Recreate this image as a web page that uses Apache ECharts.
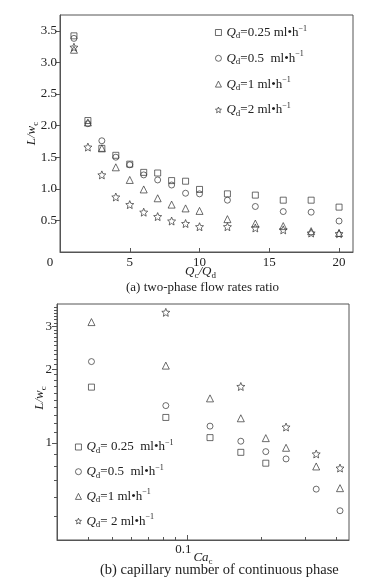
<!DOCTYPE html>
<html><head><meta charset="utf-8">
<script src="https://cdn.jsdelivr.net/npm/echarts@6/dist/echarts.min.js"></script>
<style>html,body{margin:0;padding:0;background:#fff}#c{width:371px;height:584px}</style>
</head><body><div id="c"></div>
<script>
// ---------- data ----------
const seriesNames = ['Qd=0.25', 'Qd=0.5', 'Qd=1', 'Qd=2'];
const legendTextA = ['=0.25 ml•h', '=0.5  ml•h', '=1 ml•h', '=2 ml•h'];
const legendTextB = ['= 0.25  ml•h', '=0.5  ml•h', '=1 ml•h', '= 2 ml•h'];

// chart (a): L/wc vs Qc/Qd
const ratioX = [1, 2, 3, 4, 5, 6, 7, 8, 9, 10, 12, 14, 16, 18, 20];
const a_q025 = [3.42, 2.08, 1.64, 1.53, 1.39, 1.26, 1.25, 1.13, 1.12, 0.99, 0.92, 0.90, 0.82, 0.82, 0.71];
const a_q05  = [3.38, 2.03, 1.76, 1.50, 1.38, 1.22, 1.14, 1.06, 0.93, 0.92, 0.82, 0.72, 0.64, 0.63, 0.49];
const a_q1   = [3.20, 2.05, 1.64, 1.34, 1.14, 0.99, 0.85, 0.75, 0.69, 0.65, 0.52, 0.45, 0.41, 0.33, 0.30];
const a_q2   = [3.24, 1.66, 1.22, 0.87, 0.75, 0.63, 0.56, 0.49, 0.45, 0.40, 0.40, 0.38, 0.35, 0.30, 0.29];
const a_xLabels = [0, 5, 10, 15, 20];
const a_xTicks = [5, 10, 15, 20];
const a_yLabels = [0.5, 1, 1.5, 2, 2.5, 3, 3.5];

// chart (b): L/wc vs Ca_c (log-log)
const b_x_q025 = [0.0413, 0.0823, 0.124, 0.165, 0.208];
const b_y_q025 = [1.69, 1.27, 1.05, 0.914, 0.825];
const b_x_q05  = [0.0413, 0.0823, 0.124, 0.165, 0.208, 0.251, 0.332, 0.414];
const b_y_q05  = [2.15, 1.42, 1.17, 1.015, 0.92, 0.859, 0.646, 0.527];
const b_x_q1   = [0.0413, 0.0823, 0.124, 0.165, 0.208, 0.251, 0.332, 0.414];
const b_y_q1   = [3.12, 2.07, 1.52, 1.26, 1.045, 0.954, 0.80, 0.652];
const b_x_q2   = [0.0823, 0.165, 0.251, 0.332, 0.414];
const b_y_q2   = [3.42, 1.70, 1.16, 0.90, 0.788];
const b_xMajor = [0.1];
const b_xMinor = [0.04, 0.05, 0.06, 0.07, 0.08, 0.09, 0.2, 0.3, 0.4];
const b_yMajor = [1, 2, 3];
const b_yMinor = [0.5, 0.6, 0.7, 0.8, 0.9, 1.1, 1.2, 1.3, 1.4, 1.5, 1.6, 1.7, 1.8, 1.9,
                  2.1, 2.2, 2.3, 2.4, 2.5, 2.6, 2.7, 2.8, 2.9, 3.1, 3.2, 3.3, 3.4, 3.5, 3.6];

// ---------- styles ----------
const FONT = 'Liberation Serif';
const TXT = '#222';
const AX = '#555';
const STROKE = '#333';
const STAR = 'path://M12,2 L14.9,8.9 L22.4,9.6 L16.7,14.5 L18.4,21.9 L12,18 L5.6,21.9 L7.3,14.5 L1.6,9.6 L9.1,8.9 Z';
const symbols = ['rect', 'circle', 'triangle', STAR];
const symSizes = [6, 6, 7, 8];

const rich = {
  i: {fontStyle: 'italic', fontFamily: FONT, fontSize: 13, lineHeight: 16, color: TXT},
  t: {fontFamily: FONT, fontSize: 13, lineHeight: 16, color: TXT},
  s: {fontFamily: FONT, fontSize: 9, lineHeight: 9, verticalAlign: 'bottom', color: TXT},
  p: {fontFamily: FONT, fontSize: 8, lineHeight: 8, verticalAlign: 'top', color: TXT}
};

function pairs(xs, ys) { return xs.map((x, k) => [x, ys[k]]); }

const aData = [a_q025, a_q05, a_q1, a_q2].map(ys => pairs(ratioX, ys));
const bData = [pairs(b_x_q025, b_y_q025), pairs(b_x_q05, b_y_q05), pairs(b_x_q1, b_y_q1), pairs(b_x_q2, b_y_q2)];

const series = [];
[aData, bData].forEach((set, g) => {
  set.forEach((d, k) => {
    series.push({
      type: 'scatter', name: seriesNames[k], xAxisIndex: g === 0 ? 0 : 1, yAxisIndex: g === 0 ? 0 : 1,
      symbol: symbols[k], symbolSize: symSizes[k], data: d,
      itemStyle: {color: 'rgba(255,255,255,0)', borderColor: STROKE, borderWidth: 0.9},
      emphasis: {disabled: true}, z: 5
    });
  });
});

const labelStyle = {fontFamily: FONT, fontSize: 13, color: TXT};
const legendItemStyle = {color: '#fff', borderColor: STROKE, borderWidth: 0.9};

const option = {
  animation: false,
  backgroundColor: '#fff',
  title: [
    {text: '(a) two-phase flow rates ratio', left: 126, top: 281, padding: 0,
     textStyle: {fontFamily: FONT, fontSize: 13, fontWeight: 'normal', color: TXT}},
    {text: '(b) capillary number of continuous phase', left: 100, top: 563, padding: 0,
     textStyle: {fontFamily: FONT, fontSize: 14.5, fontWeight: 'normal', color: TXT}}
  ],
  grid: [
    {left: 60, top: 15, right: 18, height: 237, show: true, borderColor: AX, borderWidth: 1},
    {left: 57, top: 304, right: 22, height: 236, show: true, borderColor: AX, borderWidth: 1}
  ],
  legend: [
    {orient: 'vertical', left: 215, top: 24.5, padding: 0, itemGap: 9.8, itemWidth: 6, itemHeight: 6, data: seriesNames,
     itemStyle: legendItemStyle,
     formatter: n => { const k = seriesNames.indexOf(n); return '{i|Q}{s|d}{t|' + legendTextA[k] + '}{p|−1}'; },
     textStyle: {rich: rich}, selectedMode: false},
    {orient: 'vertical', left: 75, top: 439, padding: 0, itemGap: 8.7, itemWidth: 6, itemHeight: 6, data: seriesNames,
     itemStyle: legendItemStyle,
     formatter: n => { const k = seriesNames.indexOf(n); return '{i|Q}{s|d}{t|' + legendTextB[k] + '}{p|−1}'; },
     textStyle: {rich: rich}, selectedMode: false}
  ],
  xAxis: [
    {type: 'value', gridIndex: 0, min: 0, max: 21,
     axisLine: {lineStyle: {color: AX}}, splitLine: {show: false},
     axisTick: {inside: true, length: 4, lineStyle: {color: AX}, customValues: a_xTicks},
     axisLabel: Object.assign({}, labelStyle, {margin: 4, customValues: a_xLabels,
       formatter: v => v === 0 ? '{z|0}' : String(v), rich: {z: {padding: [0, 20, 0, 0]}}}),
     name: '{i|Q}{s|c}{i|/Q}{s|d}', nameLocation: 'middle', nameGap: 12, nameMoveOverlap: false,
     nameTextStyle: {rich: rich, padding: [0, 12, 0, 0]}},
    {type: 'log', gridIndex: 1, min: 0.03, max: 0.45,
     axisLine: {lineStyle: {color: AX}}, splitLine: {show: false}, minorSplitLine: {show: false},
     axisTick: {inside: true, length: 5, lineStyle: {color: AX}, customValues: b_xMajor},
     axisLabel: Object.assign({}, labelStyle, {margin: 3, customValues: b_xMajor, formatter: v => '{z|0.1}',
       rich: {z: {padding: [0, 7, 0, 0]}}}),
     name: '{i|Ca}{s|c}', nameLocation: 'middle', nameGap: 10, nameMoveOverlap: false,
     nameTextStyle: {rich: rich}},
    {type: 'log', gridIndex: 1, min: 0.03, max: 0.45, position: 'bottom',
     axisLine: {show: false}, splitLine: {show: false}, axisLabel: {show: false},
     axisTick: {inside: true, length: 3, lineStyle: {color: AX}, customValues: b_xMinor}}
  ],
  yAxis: [
    {type: 'value', gridIndex: 0, min: 0, max: 3.75,
     axisLine: {show: true, lineStyle: {color: AX}}, splitLine: {show: false},
     axisTick: {show: true, inside: false, length: 4, lineStyle: {color: AX}, customValues: a_yLabels},
     axisLabel: Object.assign({}, labelStyle, {margin: 3, customValues: a_yLabels, formatter: v => v.toFixed(1)}),
     name: '{i|L/w}{s|c}', nameLocation: 'middle', nameRotate: 90, nameGap: 20, nameMoveOverlap: false,
     nameTextStyle: {rich: rich}},
    {type: 'log', gridIndex: 1, min: 0.4, max: 3.7,
     axisLine: {show: true, lineStyle: {color: AX}}, splitLine: {show: false},
     axisTick: {show: true, inside: false, length: 5, lineStyle: {color: AX}, customValues: b_yMajor},
     axisLabel: Object.assign({}, labelStyle, {margin: 5, customValues: b_yMajor, formatter: v => String(Math.round(v))}),
     name: '{i|L/w}{s|c}', nameLocation: 'middle', nameRotate: 90, nameGap: 9, nameMoveOverlap: false,
     nameTextStyle: {rich: rich, padding: [0, 0, 0, 48]}},
    {type: 'log', gridIndex: 1, min: 0.4, max: 3.7, position: 'left',
     axisLine: {show: false}, splitLine: {show: false}, axisLabel: {show: false},
     axisTick: {show: true, inside: false, length: 3, lineStyle: {color: AX}, customValues: b_yMinor}}
  ],
  series: series
};

const chart = echarts.init(document.getElementById('c'), null, {renderer: 'canvas'});
chart.setOption(option);
</script>
</body></html>
